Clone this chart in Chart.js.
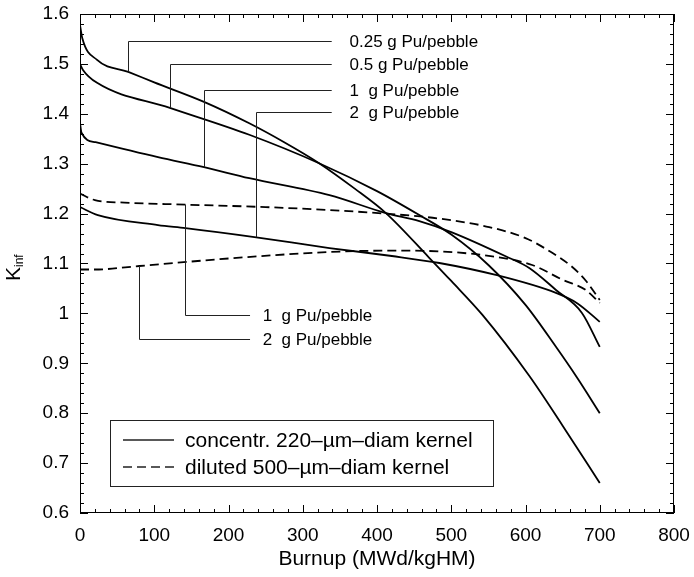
<!DOCTYPE html>
<html lang="en">
<head>
<meta charset="UTF-8">
<title>Kinf vs burnup</title>
<script src="https://cdn.jsdelivr.net/npm/chart.js"></script>
<style>
  html, body { margin: 0; padding: 0; background: #fff; }
  #wrap { width: 694px; height: 577px; }
</style>
</head>
<body>
<div id="wrap"><canvas id="kinfChart" width="694" height="577"></canvas></div>
<script>
// concentrated 220-um kernels (solid lines)
const burnupC025 = [0, 3, 23, 65, 100, 167, 228, 275, 322, 370, 412, 470, 500, 542, 605, 650, 700];
const kinfC025   = [1.578, 1.552, 1.508, 1.484, 1.463, 1.424, 1.381, 1.343, 1.301, 1.25, 1.201, 1.112, 1.065, 0.997, 0.875, 0.775, 0.66];
const burnupC05  = [0, 4, 23, 121, 228, 322, 400, 457, 500, 550, 600, 641, 670, 700];
const kinfC05    = [1.50, 1.488, 1.462, 1.412, 1.358, 1.301, 1.245, 1.197, 1.158, 1.097, 1.017, 0.933, 0.87, 0.80];
const burnupC1   = [0, 2, 21, 105, 167, 228, 336, 412, 457, 500, 574, 605, 641, 676, 700];
const kinfC1     = [1.382, 1.362, 1.343, 1.313, 1.293, 1.271, 1.237, 1.201, 1.185, 1.163, 1.114, 1.091, 1.047, 1.001, 0.933];
const burnupC2   = [0, 24, 105, 142, 235, 336, 420, 484, 560, 641, 670, 700];
const kinfC2     = [1.213, 1.197, 1.177, 1.171, 1.153, 1.131, 1.115, 1.101, 1.077, 1.041, 1.02, 0.983];

// diluted 500-um kernels (dashed lines)
const burnupD1   = [0, 20, 60, 142, 250, 336, 420, 484, 551, 600, 632, 663, 681, 700];
const kinfD1     = [1.24, 1.227, 1.222, 1.218, 1.213, 1.207, 1.199, 1.19, 1.173, 1.151, 1.125, 1.093, 1.066, 1.027];
const burnupD2   = [0, 20, 80, 200, 336, 430, 542, 609, 649, 681, 700];
const kinfD2     = [1.088, 1.088, 1.095, 1.11, 1.123, 1.126, 1.117, 1.097, 1.068, 1.047, 1.021];

const xTicks = [0, 100, 200, 300, 400, 500, 600, 700, 800];
const yTicks = [0.6, 0.7, 0.8, 0.9, 1, 1.1, 1.2, 1.3, 1.4, 1.5, 1.6];

const FONT = "'Liberation Sans', Arial, Helvetica, sans-serif";
const DASH = [9, 5];

function pts(xs, ys) { return xs.map((b, i) => ({ x: b, y: ys[i] })); }
function interp(xs, ys, b) {
  for (let i = 1; i < xs.length; i++) {
    if (b <= xs[i]) {
      const t = (b - xs[i - 1]) / (xs[i] - xs[i - 1]);
      return ys[i - 1] + t * (ys[i] - ys[i - 1]);
    }
  }
  return ys[ys.length - 1];
}

function series(label, xs, ys, dashed) {
  return {
    label: label,
    data: pts(xs, ys),
    showLine: true,
    borderColor: '#000',
    borderWidth: 1.8,
    borderDash: dashed ? DASH : [],
    pointRadius: 0,
    cubicInterpolationMode: 'monotone',
    fill: false
  };
}

// leader lines with labels: anchor burnup, label level (Kinf)
const leaders = [
  { text: '0.25 g Pu/pebble', xs: burnupC025, ys: kinfC025, at: 64.5, level: 1.546, lineEnd: 339, textAt: 363 },
  { text: '0.5 g Pu/pebble',  xs: burnupC05,  ys: kinfC05,  at: 121,  level: 1.500, lineEnd: 339, textAt: 363 },
  { text: '1  g Pu/pebble',   xs: burnupC1,   ys: kinfC1,   at: 167,  level: 1.448, lineEnd: 339, textAt: 363 },
  { text: '2  g Pu/pebble',   xs: burnupC2,   ys: kinfC2,   at: 237,  level: 1.404, lineEnd: 339, textAt: 363 },
  { text: '1  g Pu/pebble',   xs: burnupD1,   ys: kinfD1,   at: 142,  level: 0.997, lineEnd: 229, textAt: 246 },
  { text: '2  g Pu/pebble',   xs: burnupD2,   ys: kinfD2,   at: 80,   level: 0.949, lineEnd: 229, textAt: 246 }
];

const framePlugin = {
  id: 'frame',
  afterDatasetsDraw(chart) {
    const { ctx, chartArea: a, scales: { x, y } } = chart;
    ctx.save();
    ctx.strokeStyle = '#000';
    ctx.lineWidth = 1;
    ctx.strokeRect(a.left + 0.5, a.top + 0.5, a.right - a.left - 1, a.bottom - a.top - 1);
    ctx.beginPath();
    for (let v = 0; v <= 800; v += 20) {
      const px = Math.round(x.getPixelForValue(v)) + 0.5;
      const len = v % 100 === 0 ? 8 : 4;
      ctx.moveTo(px, a.bottom); ctx.lineTo(px, a.bottom - len);
      ctx.moveTo(px, a.top); ctx.lineTo(px, a.top + len);
    }
    for (let i = 0; i <= 50; i++) {
      const py = Math.round(y.getPixelForValue(0.6 + i * 0.02)) + 0.5;
      const len = i % 5 === 0 ? 8 : 4;
      ctx.moveTo(a.left, py); ctx.lineTo(a.left + len, py);
      ctx.moveTo(a.right, py); ctx.lineTo(a.right - len, py);
    }
    ctx.stroke();

    // leaders
    ctx.strokeStyle = '#222';
    ctx.lineWidth = 1;
    ctx.fillStyle = '#000';
    ctx.font = '17px ' + FONT;
    ctx.textBaseline = 'middle';
    ctx.textAlign = 'left';
    leaders.forEach(l => {
      const px = Math.round(x.getPixelForValue(l.at)) + 0.5;
      const pyc = y.getPixelForValue(interp(l.xs, l.ys, l.at));
      const pyl = Math.round(y.getPixelForValue(l.level)) + 0.5;
      ctx.beginPath();
      ctx.moveTo(px, pyc);
      ctx.lineTo(px, pyl);
      ctx.lineTo(x.getPixelForValue(l.lineEnd), pyl);
      ctx.stroke();
      ctx.fillText(l.text, x.getPixelForValue(l.textAt), pyl + 1);
    });

    // legend box
    const lx = a.left + 30, ly = a.bottom - 93, lw = 383, lh = 66;
    ctx.strokeRect(Math.round(lx) + 0.5, Math.round(ly) + 0.5, lw, lh);
    const rows = [
      { text: 'concentr. 220\u2013\u00b5m\u2013diam kernel', dash: [] },
      { text: 'diluted 500\u2013\u00b5m\u2013diam kernel', dash: DASH }
    ];
    ctx.font = '21px ' + FONT;
    rows.forEach((r, i) => {
      const ry = ly + 20 + i * 27;
      ctx.beginPath();
      ctx.setLineDash(r.dash);
      ctx.lineWidth = 1.5;
      ctx.moveTo(lx + 13, ry);
      ctx.lineTo(lx + 64, ry);
      ctx.stroke();
      ctx.setLineDash([]);
      ctx.fillText(r.text, lx + 75, ry + 1);
    });

    // y title K_inf
    ctx.save();
    ctx.translate(20, 281);
    ctx.rotate(-Math.PI / 2);
    ctx.textBaseline = 'alphabetic';
    ctx.font = '21px ' + FONT;
    ctx.fillText('K', 0, 0);
    const kw = ctx.measureText('K').width;
    ctx.font = '12px ' + FONT;
    ctx.fillText('inf', kw, 3);
    ctx.restore();

    ctx.restore();
  }
};

const ctx = document.getElementById('kinfChart').getContext('2d');
new Chart(ctx, {
  type: 'scatter',
  data: {
    datasets: [
      series('0.25 g concentrated', burnupC025, kinfC025, false),
      series('0.5 g concentrated', burnupC05, kinfC05, false),
      series('1 g concentrated', burnupC1, kinfC1, false),
      series('2 g concentrated', burnupC2, kinfC2, false),
      series('1 g diluted', burnupD1, kinfD1, true),
      series('2 g diluted', burnupD2, kinfD2, true)
    ]
  },
  options: {
    responsive: false,
    animation: false,
    layout: { padding: { top: 14, right: 20, left: 0, bottom: 0 } },
    plugins: { legend: { display: false }, tooltip: { enabled: false } },
    scales: {
      x: {
        type: 'linear', min: 0, max: 800,
        afterFit(s) { s.height = 64; s.paddingLeft = 0; s.paddingRight = 0; },
        afterBuildTicks(s) { s.ticks = xTicks.map(v => ({ value: v })); },
        grid: { display: false, drawTicks: false },
        border: { display: false },
        ticks: { color: '#000', font: { family: FONT, size: 19 }, padding: 11, maxRotation: 0 },
        title: { display: true, text: 'Burnup (MWd/kgHM)', color: '#000', font: { family: FONT, size: 21 }, padding: { top: 0, bottom: 5 } }
      },
      y: {
        type: 'linear', min: 0.6, max: 1.6,
        afterFit(s) { s.width = 80; s.paddingTop = 0; s.paddingBottom = 0; },
        afterBuildTicks(s) { s.ticks = yTicks.map(v => ({ value: v })); },
        grid: { display: false, drawTicks: false },
        border: { display: false },
        ticks: { color: '#000', font: { family: FONT, size: 19 }, padding: 11, callback: v => String(+v.toFixed(1)) }
      }
    }
  },
  plugins: [framePlugin]
});
</script>
</body>
</html>
